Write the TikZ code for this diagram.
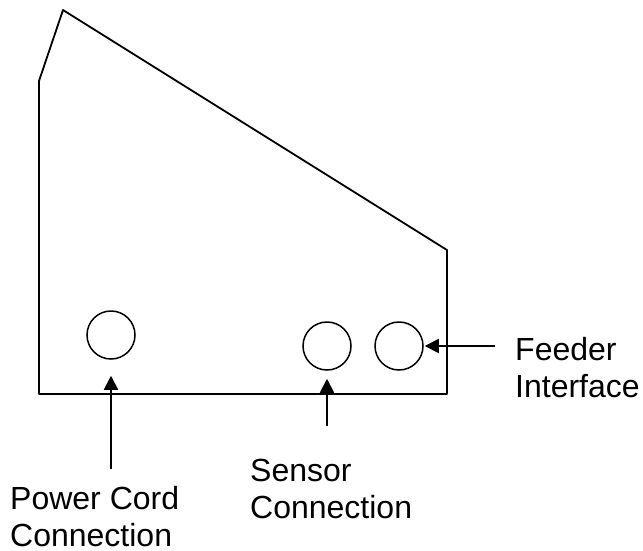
\documentclass[tikz,border=0pt]{standalone}
\usepackage{fontspec}
\setmainfont{Liberation Sans}
\usepackage{tkz-euclide}
\usetikzlibrary{arrows.meta}
\tikzset{port/.style = {draw, circle, line width=1.5pt, minimum size=48pt, inner sep=0pt}}
\tikzset{callout/.style = {-{Triangle[length=14pt, width=14pt]}, line width=1.8pt}}
\tikzset{caption/.style = {anchor=north west, align=left, inner sep=0pt, font=\fontsize{32}{37}\selectfont}}

\begin{document}
\begin{tikzpicture}[x=1pt, y=1pt]
\useasboundingbox (0,0) rectangle (643,-550);
\tkzDefPoints{63/-10/T, 39/-81/K, 39/-394/P, 447/-394/Q, 447/-250/R}
\tkzDrawPolygon[line width=1.8pt](T,K,P,Q,R)
% connectors on the back panel
\node[port] (power) at (111,-335) {};
\node[port] (sensor) at (327,-346) {};
\node[port] (feeder) at (399,-346) {};
\coordinate (powertail) at (111,-469);
\coordinate (sensortail) at (327,-426);
\coordinate (feedertail) at (495,-346);
\draw[callout, shorten >=16pt] (powertail) -- (power);
\draw[callout, shorten >=8pt] (sensortail) -- (sensor);
\draw[callout, shorten >=1pt] (feedertail) -- (feeder);
\node[caption] (powerlbl) at (10,-486) {Power Cord\\Connection};
\node[caption] (sensorlbl) at (250,-459) {Sensor\\Connection};
\node[caption] (feederlbl) at (515,-337) {Feeder\\Interface};
\end{tikzpicture}
\end{document}
